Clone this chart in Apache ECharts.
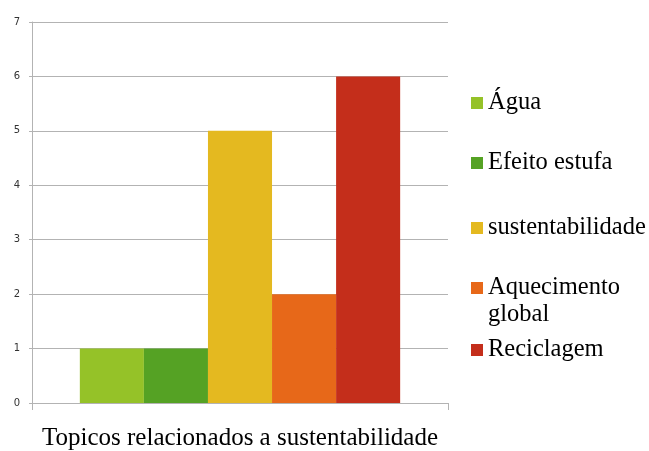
<!DOCTYPE html>
<html>
<head>
<meta charset="utf-8">
<script src="https://cdn.jsdelivr.net/npm/echarts@6/dist/echarts.min.js"></script>
<style>html,body{margin:0;padding:0;background:#fff}#c{width:649px;height:451px}</style>
</head>
<body>
<div id="c"></div>
<script>
const axisTitle = 'Topicos relacionados a sustentabilidade';
const categories = [''];
const seriesNames = ['Água', 'Efeito estufa', 'sustentabilidade', 'Aquecimento global', 'Reciclagem'];
const seriesValues = [1, 1, 5, 2, 6];
const seriesColors = ['#95c228', '#55a224', '#e4b920', '#e76819', '#c42e1b'];
const legendCenters = [103, 163, 228, 301, 350];
const yMin = 0, yMax = 7, yStep = 1;

const chart = echarts.init(document.getElementById('c'), null, {renderer: 'canvas'});

const textBase = {fontFamily: 'Liberation Serif', fontSize: 24.5, color: '#000', lineHeight: 27};
const legends = seriesNames.map((n, i) => {
  const two = n === 'Aquecimento global';
  return {
    orient: 'vertical',
    left: 471,
    top: legendCenters[i] - (two ? 27 : 13.5),
    padding: 0,
    itemWidth: 12,
    itemHeight: two ? 38 : 12,
    icon: two ? 'path://M0,0L12,0L12,12L0,12Z M0,38L0.001,38L0.001,37.999Z' : 'rect',
    data: [n],
    selectedMode: false,
    formatter: two ? 'Aquecimento\nglobal' : '{name}',
    textStyle: textBase
  };
});

chart.setOption({
  animation: false,
  grid: {left: 32, right: 201, top: 22, bottom: 48, containLabel: false, outerBoundsMode: 'none'},
  legend: legends,
  xAxis: {
    type: 'category',
    data: categories,
    name: axisTitle,
    nameLocation: 'middle',
    nameGap: 23,
    nameTextStyle: {fontFamily: 'Liberation Serif', fontSize: 25, color: '#000'},
    axisLine: {lineStyle: {color: '#b3b3b3', width: 1}},
    axisTick: {show: true, length: 7, lineStyle: {color: '#b3b3b3'}},
    axisLabel: {show: false},
    splitLine: {show: false}
  },
  yAxis: {
    type: 'value',
    min: yMin, max: yMax, interval: yStep,
    axisLine: {show: true, lineStyle: {color: '#b3b3b3', width: 1}},
    axisTick: {show: true, length: 3, lineStyle: {color: '#b3b3b3'}},
    axisLabel: {fontFamily: 'DejaVu Sans', fontSize: 10, color: '#333', margin: 12},
    splitLine: {lineStyle: {color: '#b3b3b3', width: 1}}
  },
  series: seriesNames.map((n, i) => ({
    name: n,
    type: 'bar',
    data: [seriesValues[i]],
    itemStyle: {color: seriesColors[i]},
    barGap: '0%',
    barCategoryGap: '23%'
  }))
});
</script>
</body>
</html>
